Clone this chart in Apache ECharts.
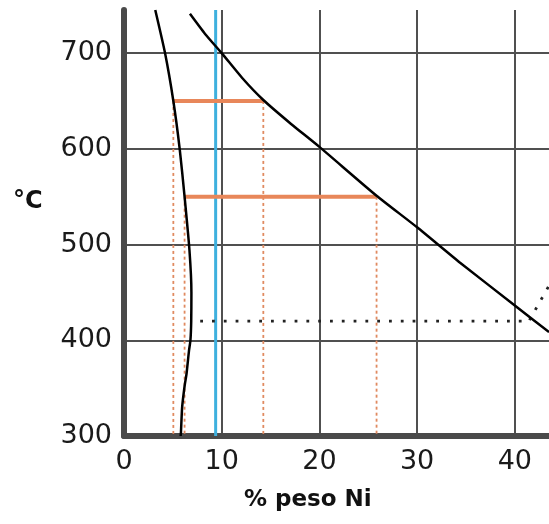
<!DOCTYPE html>
<html><head><meta charset="utf-8">
<script src="https://cdn.jsdelivr.net/npm/echarts@6/dist/echarts.min.js"></script>
<style>html,body{margin:0;padding:0;background:#fff}#c{width:549px;height:524px}</style>
</head><body><div id="c"></div>
<script>
// Axis ticks
const xTickValues = [0, 10, 20, 30, 40];
const yTickValues = [300, 400, 500, 600, 700];

// alpha / (alpha+gamma) boundary (left curve): wt% Ni, T (°C)
const alphaNi = [3.2, 4.2, 5.05, 5.7, 6.2, 6.7, 6.9, 6.88, 6.8, 6.65, 6.4, 6.2, 5.95, 5.83, 5.8];
const alphaT  = [745, 700, 650, 600, 550, 494, 450, 420, 400, 389, 365, 352, 330, 304, 300];

// gamma / (alpha+gamma) boundary (right curve)
const gammaNi = [6.75, 8.3, 10, 12.1, 14.26, 17.1, 20, 25.85, 30, 34.4, 40, 43.5];
const gammaT  = [741, 720, 700, 674, 651, 626, 602, 551, 518, 481, 436.4, 408.5];

// tie lines
const tieT     = [650, 550];
const tieLeft  = [5.05, 6.2];
const tieRight = [14.26, 25.85];

// dotted horizontal line and dotted rising line
const dotHNi = [7.8, 41.3];
const dotHT  = [420, 420];
const dotDNi = [41.5, 43.5];
const dotDT  = [421, 457];

// alloy composition (blue line)
const alloyNi = 9.38;

const zip = (a, b) => a.map((v, i) => [v, b[i]]);
const series = [];
series.push({type: 'line', data: [[alloyNi, 300], [alloyNi, 745]], showSymbol: false, silent: true,
  lineStyle: {color: '#3eb0de', width: 3}, z: 3});
for (let i = 0; i < tieT.length; i++) {
  for (const xv of [tieLeft[i], tieRight[i]]) {
    series.push({type: 'line', data: [[xv, tieT[i]], [xv, 300]], showSymbol: false, silent: true,
      lineStyle: {color: '#e08a60', width: 1.8, type: [3, 3]}, z: 3});
  }
  series.push({type: 'line', data: [[tieLeft[i], tieT[i]], [tieRight[i], tieT[i]]], showSymbol: false, silent: true,
    lineStyle: {color: '#e8875a', width: 4}, z: 4});
}
series.push({type: 'line', data: zip(dotHNi, dotHT), showSymbol: false, silent: true,
  lineStyle: {color: '#222', width: 2.8, type: [2.8, 9]}, z: 5});
series.push({type: 'line', data: zip(dotDNi, dotDT), showSymbol: false, silent: true,
  lineStyle: {color: '#222', width: 2.8, type: [2.8, 9]}, z: 5});
series.push({type: 'line', data: zip(alphaNi, alphaT), showSymbol: false, silent: true, smooth: 0.2,
  lineStyle: {color: '#000', width: 2.5}, z: 6});
series.push({type: 'line', data: zip(gammaNi, gammaT), showSymbol: false, silent: true, smooth: 0.2,
  lineStyle: {color: '#000', width: 2.5}, z: 6});

const chart = echarts.init(document.getElementById('c'), null, {renderer: 'canvas'});
const labelFont = {fontFamily: 'DejaVu Sans', fontSize: 27, color: '#1a1a1a'};
chart.setOption({
  animation: false,
  backgroundColor: '#fff',
  grid: {left: 124, right: 0, top: 10, bottom: 88, containLabel: false},
  xAxis: {
    type: 'value', min: 0, max: 43.5, interval: 10,
    axisLine: {show: true, lineStyle: {color: '#4a4a4a', width: 6}},
    axisTick: {show: false},
    axisLabel: Object.assign({margin: 12, showMaxLabel: false,
      formatter: v => xTickValues.includes(v) ? String(v) : ''}, labelFont),
    splitLine: {show: true, showMinLine: false, showMaxLine: false, lineStyle: {color: '#505050', width: 2}}
  },
  yAxis: {
    type: 'value', min: 300, max: 745, interval: 100,
    axisLine: {show: true, lineStyle: {color: '#4a4a4a', width: 6}},
    axisTick: {show: false},
    axisLabel: Object.assign({margin: 12, showMaxLabel: false,
      formatter: v => yTickValues.includes(v) ? String(v) : ''}, labelFont),
    splitLine: {show: true, showMinLine: false, showMaxLine: false, lineStyle: {color: '#505050', width: 2}}
  },
  graphic: [
    {type: 'text', left: 13, top: 190, style: {text: '°C', fontFamily: 'DejaVu Sans', fontWeight: 'bold', fontSize: 24, fill: '#111'}},
    {type: 'text', left: 244, top: 489, style: {text: '% peso Ni', fontFamily: 'DejaVu Sans', fontWeight: 'bold', fontSize: 23, fill: '#111'}}
  ],
  series: series
});
</script>
</body></html>
